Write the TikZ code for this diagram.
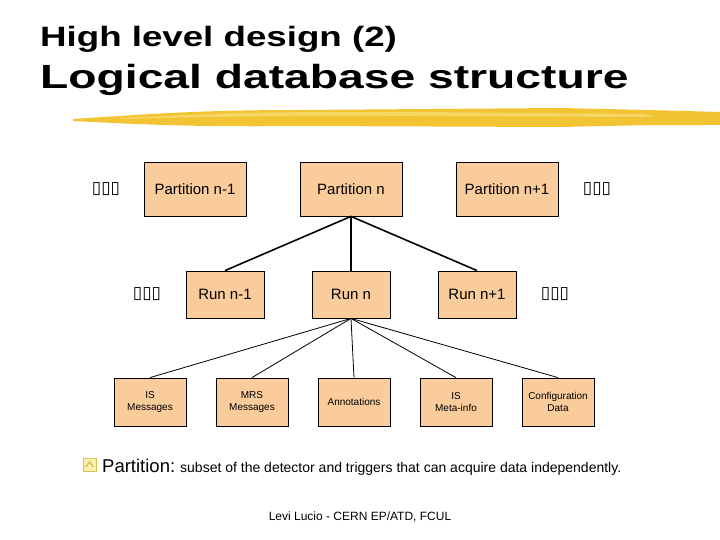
\documentclass[tikz,border=0pt]{standalone}
\usepackage{fontspec}
\setmainfont{Liberation Sans}
\newfontfamily\tofufont{DejaVu Sans}
\usepackage{tikz}
\usetikzlibrary{positioning}
\definecolor{boxfill}{RGB}{250,204,156}
\definecolor{brush}{RGB}{242,196,52}
\definecolor{brushlight}{RGB}{250,222,120}
\definecolor{bulletline}{RGB}{214,196,90}
\definecolor{bulletfill}{RGB}{250,240,176}
\tikzset{
  cell/.style={draw=black,line width=0.8pt,fill=boxfill,inner sep=0pt,align=center},
  partbox/.style={cell,minimum width=102pt,minimum height=54pt,font=\fontsize{15}{17}\selectfont},
  runbox/.style={cell,minimum width=78pt,minimum height=47pt,font=\fontsize{15}{17}\selectfont},
  leafbox/.style={cell,minimum width=72pt,minimum height=48pt,font=\fontsize{10}{12}\selectfont},
  tofu/.style={font=\tofufont\fontsize{17}{19}\selectfont,inner sep=0pt},
  thickedge/.style={line width=1.6pt},
  thinedge/.style={line width=0.8pt}
}
\begin{document}
\begin{tikzpicture}[x=1pt,y=-1pt]
    \useasboundingbox (0,0) rectangle (720,540);
    % title
    \node[anchor=base west,inner sep=0pt,font=\bfseries\fontsize{28}{30}\selectfont] (title) at (40,47) {\scalebox{1.31}[1]{High level design (2)}};
    \node[anchor=base west,inner sep=0pt,font=\bfseries\fontsize{33.5}{36}\selectfont] (subtitle) at (40,89) {\scalebox{1.38}[1]{Logical database structure}};
    % brush stroke
    \fill[brush] (73,119) .. controls (150,114) and (200,110) .. (300,110) -- (560,108)
        .. controls (650,110) .. (720,112) -- (720,125) .. controls (650,125) .. (560,127)
        -- (300,126) .. controls (200,127) and (150,125) .. (73,121) -- cycle;
    \fill[brushlight,opacity=0.7] (120,118) .. controls (250,112) .. (420,112) -- (640,114)
        .. controls (660,116) .. (640,117) -- (420,116) .. controls (250,116) .. (120,119) -- cycle;
    % partitions
    \node[partbox] (pprev) at (195,189) {Partition n-1};
    \node[partbox] (pcur) at (351,189) {Partition n};
    \node[partbox] (pnext) at (507,189) {Partition n+1};
    \node[tofu] (tofuA) at (106,189) {▯▯▯};
    \node[tofu] (tofuB) at (597,189) {▯▯▯};
    % runs
    \node[runbox] (rprev) at (225,294.5) {Run n-1};
    \node[runbox] (rcur) at (351,294.5) {Run n};
    \node[runbox] (rnext) at (477,294.5) {Run n+1};
    \node[tofu] (tofuC) at (147,294) {▯▯▯};
    \node[tofu] (tofuD) at (555,294) {▯▯▯};
    % contents of a run
    \node[leafbox] (ismsg) at (150,402) {IS\\Messages};
    \node[leafbox] (mrsmsg) at (252,402) {MRS\\Messages};
    \node[leafbox] (annot) at (354,402) {Annotations};
    \node[leafbox] (ismeta) at (456,402) {IS\\Meta-info};
    \node[leafbox] (config) at (558,402) {Configuration\\Data};
    % edges
    \draw[thickedge] (pcur.south) -- (rprev.north);
    \draw[thickedge] (pcur.south) -- (rcur.north);
    \draw[thickedge] (pcur.south) -- (rnext.north);
    \foreach \leaf in {ismsg,mrsmsg,annot,ismeta,config}
        \draw[thinedge] (rcur.south) -- (\leaf.north);
    % bullet
    \draw[bulletline,fill=bulletfill,line width=0.8pt] (83,458) rectangle (96,471);
    \draw[bulletline,line width=1.4pt] (85.5,467) -- (89.5,462) -- (93.5,467);
    \node[anchor=base west,inner sep=0pt,font=\fontsize{18.5}{20}\selectfont] (defterm) at (102,472) {Partition:};
    \node[anchor=base west,inner sep=0pt,font=\fontsize{14}{16}\selectfont] (deftext) at (180,472) {subset of the detector and triggers that can acquire data independently.};
    % footer
    \node[anchor=base,inner sep=0pt,font=\fontsize{12}{14}\selectfont] (footer) at (360,520) {Levi Lucio - CERN EP/ATD, FCUL};
\end{tikzpicture}
\end{document}
